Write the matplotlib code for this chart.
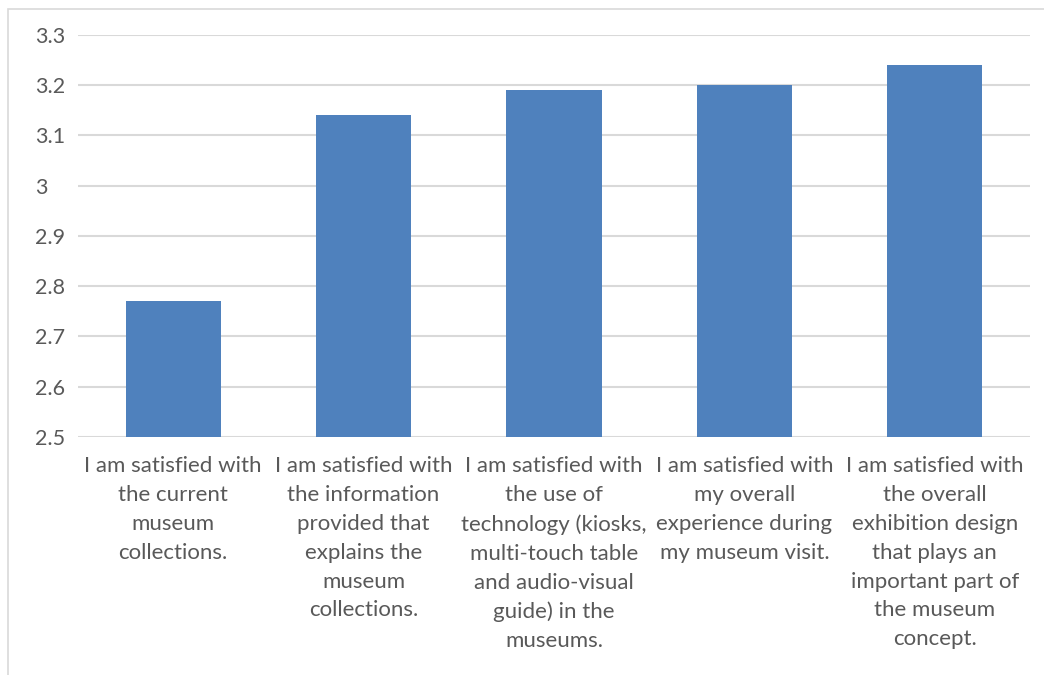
import matplotlib.pyplot as plt
import matplotlib.patches as mpatches

categories = [
    "I am satisfied with\nthe current\nmuseum\ncollections.",
    "I am satisfied with\nthe information\nprovided that\nexplains the\nmuseum\ncollections.",
    "I am satisfied with\nthe use of\ntechnology (kiosks,\nmulti-touch table\nand audio-visual\nguide) in the\nmuseums.",
    "I am satisfied with\nmy overall\nexperience during\nmy museum visit.",
    "I am satisfied with\nthe overall\nexhibition design\nthat plays an\nimportant part of\nthe museum\nconcept.",
]
values = [2.77, 3.14, 3.19, 3.20, 3.24]
y_ticks = [2.5, 2.6, 2.7, 2.8, 2.9, 3.0, 3.1, 3.2, 3.3]
y_tick_labels = ["2.5", "2.6", "2.7", "2.8", "2.9", "3", "3.1", "3.2", "3.3"]

plt.rcParams['font.family'] = ['Lato', 'DejaVu Sans']

fig = plt.figure(figsize=(10.44, 6.75), dpi=100)
ax = fig.add_axes([78 / 1044, 1 - 437 / 675, (1030 - 78) / 1044, (437 - 35) / 675])

x = list(range(len(categories)))
ax.bar(x, [v - 2.5 for v in values], bottom=2.5, width=0.5, color="#4f81bd", zorder=3)

ax.set_xlim(-0.5, len(categories) - 0.5)
ax.set_ylim(2.5, 3.3)
ax.set_yticks(y_ticks)
ax.set_yticklabels(y_tick_labels, ha="left", fontsize=15.5)
ax.set_xticks(x)
ax.set_xticklabels(categories, linespacing=1.55, fontsize=16)

ax.grid(axis="y", color="#d9d9d9", linewidth=1.5, zorder=0)
for s in ax.spines.values():
    s.set_visible(False)
ax.tick_params(axis="both", length=0, colors="#595959")
ax.tick_params(axis="y", pad=31)
ax.tick_params(axis="x", pad=14)

# light frame around the chart area
frame = mpatches.Rectangle((8 / 1044, -0.1), 1.2, 1 - 9 / 675 + 0.1,
                           transform=fig.transFigure, fill=False,
                           edgecolor="#d9d9d9", linewidth=1.2)
fig.patches.append(frame)

fig.savefig("out.png", dpi=100)
